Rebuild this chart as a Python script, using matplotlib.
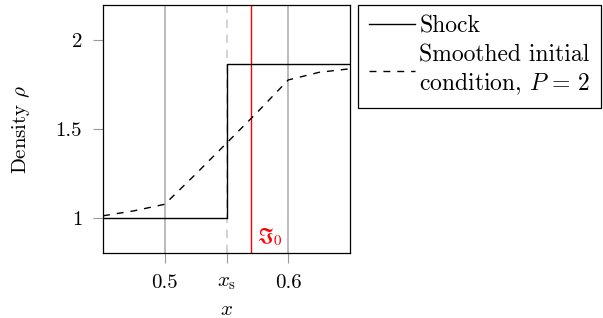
import matplotlib
matplotlib.use("Agg")
import matplotlib.pyplot as plt

plt.rcParams['font.family'] = 'serif'
plt.rcParams['font.serif'] = ['cmr10']
plt.rcParams['mathtext.fontset'] = 'cm'
plt.rcParams['axes.unicode_minus'] = False

# datos
x_shock = [0.45, 0.55, 0.55, 0.65]
rho_shock = [1.0, 1.0, 1.865, 1.865]

x_smooth = [0.45, 0.475, 0.5, 0.525, 0.55, 0.575, 0.6, 0.625, 0.65]
rho_smooth = [1.01, 1.038, 1.075, 1.245, 1.42, 1.595, 1.777, 1.82, 1.84]

x_grid = [0.5, 0.6]
x_s = 0.55
x_i0 = 0.5695

xticks = [0.5, 0.55, 0.6]
xtick_labels = ['0.5', r'$x_\mathrm{s}$', '0.6']
yticks = [1, 1.5, 2]
ytick_labels = ['1', '1.5', '2']

fig = plt.figure(figsize=(6.03, 3.18), dpi=100)
ax = fig.add_axes([103/603, 1-253/318, 247/603, 248/318])

for xg in x_grid:
    ax.axvline(xg, color='#bbbbbb', lw=1.4, zorder=1)
ax.axvline(x_s, color='#cccccc', lw=1.2, ls=(0, (5, 4)), zorder=1)
ax.axvline(x_i0, color='red', lw=1.0, zorder=2)

l1, = ax.plot(x_shock, rho_shock, color='black', lw=1.0, zorder=3)
l2, = ax.plot(x_smooth, rho_smooth, color='black', lw=1.0, ls=(0, (5, 5)), zorder=3)

ax.text(x_i0 + 0.005, 0.83, r'$\mathfrak{I}_0$', color='red', fontsize=15,
        math_fontfamily='stix', va='bottom', ha='left')

ax.set_xlim(0.45, 0.65)
ax.set_ylim(0.8, 2.2)
ax.set_xticks(xticks)
ax.set_xticklabels(xtick_labels)
ax.set_yticks(yticks)
ax.set_yticklabels(ytick_labels)
ax.tick_params(direction='out', length=7, width=0.8, color='#999999',
               labelsize=15, pad=8)
for s in ax.spines.values():
    s.set_linewidth(0.9)
ax.set_xlabel(r'$x$', fontsize=15, labelpad=7)
ax.set_ylabel(r'Density $\rho$', fontsize=15, labelpad=17)

leg = fig.legend([l1, l2], ['Shock', 'Smoothed initial\ncondition, $P\\,=\\,2$'],
                 loc='upper left', bbox_to_anchor=(358/603, 1-5/318),
                 borderaxespad=0, fontsize=17, handlelength=1.95,
                 handletextpad=0.2, borderpad=0.45, labelspacing=0.3,
                 fancybox=False, framealpha=1, edgecolor='black')
leg.get_frame().set_linewidth(0.9)

fig.savefig('out.png', dpi=100)
